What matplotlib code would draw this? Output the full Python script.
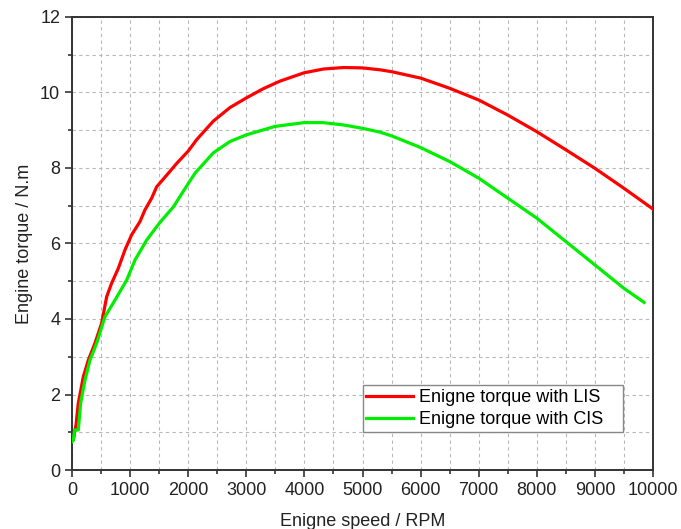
import matplotlib.pyplot as plt
from matplotlib.ticker import MultipleLocator

plt.rcParams['font.family'] = ['Liberation Sans', 'DejaVu Sans']

# engine speed (RPM) and torque (N.m) for the two ignition systems
lis_speed = [0, 23, 70, 109, 195, 281, 396, 511, 597, 683, 797, 912, 1027,
             1170, 1256, 1371, 1457, 1630, 1802, 2002, 2146, 2432, 2719,
             3006, 3293, 3580, 3993, 4326, 4670, 4997, 5300, 5500, 6000,
             6500, 7000, 7500, 8000, 8500, 9000, 9500, 10000]
lis_torque = [0.78, 0.8, 1.2, 1.77, 2.47, 2.91, 3.36, 3.89, 4.59, 4.95,
              5.34, 5.83, 6.23, 6.58, 6.89, 7.2, 7.5, 7.81, 8.12, 8.45,
              8.75, 9.24, 9.6, 9.86, 10.1, 10.3, 10.52, 10.62, 10.66, 10.65,
              10.6, 10.55, 10.38, 10.11, 9.8, 9.4, 8.96, 8.48, 7.99, 7.46,
              6.91]

cis_speed = [0, 23, 45, 80, 109, 149, 224, 310, 425, 568, 740, 941, 1084,
             1285, 1515, 1745, 2002, 2117, 2432, 2719, 3006, 3494, 3993,
             4326, 4670, 4997, 5300, 5500, 6000, 6500, 7000, 7500, 8000,
             8500, 9000, 9500, 9845]
cis_torque = [0.75, 0.79, 1.06, 1.06, 1.06, 1.77, 2.38, 2.91, 3.36, 4.06,
              4.5, 5.03, 5.56, 6.09, 6.56, 6.97, 7.59, 7.86, 8.4, 8.7,
              8.88, 9.1, 9.2, 9.2, 9.14, 9.05, 8.95, 8.85, 8.54, 8.17, 7.73,
              7.2, 6.67, 6.05, 5.43, 4.81, 4.44]

fig = plt.figure(figsize=(6.81, 5.29), dpi=100)
ax = fig.add_axes([0.1057, 0.1115, 0.8533, 0.8565])

ax.plot(lis_speed, lis_torque, color='#ff0000', lw=2.3,
        label='Enigne torque with LIS', zorder=3)
ax.plot(cis_speed, cis_torque, color='#00ee00', lw=2.3,
        label='Enigne torque with CIS', zorder=4)

ax.set_xlim(0, 10000)
ax.set_ylim(0, 12)
ax.xaxis.set_major_locator(MultipleLocator(1000))
ax.xaxis.set_minor_locator(MultipleLocator(500))
ax.yaxis.set_major_locator(MultipleLocator(2))
ax.yaxis.set_minor_locator(MultipleLocator(1))

ax.grid(True, which='both', color='#b8b8b8', ls=(0, (3, 3)), lw=0.8)
ax.set_axisbelow(True)

for s in ax.spines.values():
    s.set_linewidth(1.4)
    s.set_color('#333333')
ax.tick_params(which='major', direction='out', length=5, width=1.2,
               color='#333333', labelsize=13, labelcolor='#222222')
ax.tick_params(which='minor', direction='out', length=3, width=1.2,
               color='#333333')

ax.set_xlabel('Enigne speed / RPM', fontsize=13, color='#222222', labelpad=10)
ax.set_ylabel('Engine torque / N.m', fontsize=13, color='#222222', labelpad=5)

leg = ax.legend(loc='lower left', bbox_to_anchor=(0.5, 0.084, 0.448, 0.104),
                mode='expand', fontsize=13, fancybox=False, framealpha=1,
                borderpad=0.2, handlelength=2.6, handletextpad=0.35,
                labelspacing=0.3, borderaxespad=0)
leg.get_frame().set_edgecolor('#888888')
leg.get_frame().set_linewidth(1.0)

fig.savefig('out.png', dpi=100)
